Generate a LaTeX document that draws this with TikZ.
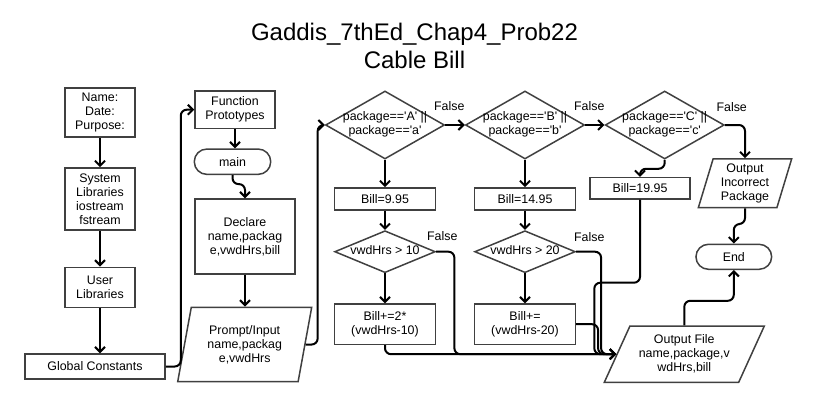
\documentclass[tikz,border=0pt]{standalone}
\usepackage{fontspec}
\setmainfont{Liberation Sans}
\usetikzlibrary{shapes.geometric,arrows.meta,calc}
\newcommand{\zbox}[1]{\makebox[0pt]{\begin{tabular}{@{}c@{}}#1\end{tabular}}}
\newcommand{\sq}{\textquotesingle}
\definecolor{boxc}{HTML}{404040}
\begin{document}
\begin{tikzpicture}[x=1pt,y=-1pt,
  every node/.style={font=\fontsize{12.4}{14}\selectfont, align=center, inner sep=0pt, text=black},
  box/.style={draw=boxc, line width=1.5pt, fill=white, rectangle},
  term/.style={draw=boxc, line width=1.5pt, fill=white, rectangle, rounded corners=12.5pt},
  dia/.style={draw=boxc, line width=1.5pt, fill=white, diamond},
  io/.style 2 args={draw=boxc, line width=1.5pt, fill=white, trapezium,
     trapezium left angle=#1, trapezium right angle=#2, trapezium stretches body},
  conn/.style={line width=2pt, black, rounded corners=6pt, -{Straight Barb[length=5pt,width=10pt]}},
  line/.style={line width=2pt, black, rounded corners=6pt},
  lbl/.style={font=\fontsize{12.4}{14}\selectfont}
]
\useasboundingbox (0,0) rectangle (825,402);

% title
\node[font=\fontsize{24}{28}\selectfont, anchor=base] (t1) at (414.5,40) {Gaddis\_7thEd\_Chap4\_Prob22};
\node[font=\fontsize{24}{28}\selectfont, anchor=base] (t2) at (414.5,68) {Cable Bill};

% column 1
\node[box, minimum width=70, minimum height=49] (nm) at (100,112.7) {Name:\\Date:\\Purpose:};
\node[box, minimum width=70, minimum height=62.3] (sl) at (100,199) {System\\Libraries\\iostream\\fstream};
\node[box, minimum width=70, minimum height=40] (ul) at (100,287.3) {User\\Libraries};
\node[box, minimum width=140, minimum height=25] (gc) at (95,366.5) {Global Constants};

% column 2
\node[box, minimum width=80, minimum height=37.3] (fp) at (235,109.7) {Function\\Prototypes};
\node[term, minimum width=76.4, minimum height=25.3] (mn) at (232.5,161.7) {main};
\node[box, minimum width=100, minimum height=75] (dc) at (245,236.5) {Declare\\name,packag\\e,vwdHrs,bill};
\node[io={70.6}{109.4}, minimum width=134, minimum height=74.4] (pi) at (244.7,344.5) {Prompt/Input\\name,packag\\e,vwdHrs};

% decisions
\node[dia, minimum width=119, minimum height=68] (d1) at (385,125) {\zbox{package==\sq A\sq\ ||\\package==\sq a\sq}};
\node[dia, minimum width=119, minimum height=68] (d2) at (525,125) {\zbox{package==\sq B\sq\ ||\\package==\sq b\sq}};
\node[dia, minimum width=119, minimum height=68] (d3) at (664.7,125) {\zbox{package==\sq C\sq\ ||\\package==\sq c\sq}};

\node[box, minimum width=100.7, minimum height=22.3] (b1) at (385,199) {Bill=9.95};
\node[box, minimum width=100.7, minimum height=22.3] (b2) at (525,199) {Bill=14.95};
\node[box, minimum width=100, minimum height=21.3] (b3) at (640,188.3) {Bill=19.95};

\node[dia, minimum width=100.7, minimum height=42] (h1) at (385,251.7) {\zbox{vwdHrs > 10}};
\node[dia, minimum width=100.7, minimum height=42] (h2) at (525,251.7) {\zbox{vwdHrs > 20}};

\node[box, minimum width=100.7, minimum height=40.3] (a1) at (385,324.2) {Bill+=2*\\(vwdHrs-10)};
\node[box, minimum width=100.7, minimum height=40.3] (a2) at (525,324.2) {Bill+=\\(vwdHrs-20)};

\node[io={69.4}{110.6}, minimum width=93.3, minimum height=48.7] (ic) at (745,183.3) {Output\\Incorrect\\Package};
\node[term, minimum width=75.7, minimum height=25] (en) at (733.8,256.8) {End};
\node[io={56.4}{123.6}, minimum width=160, minimum height=56.3] (of) at (684.3,354.2) {Output File\\name,package,v\\wdHrs,bill};

% connectors
\draw[conn] (nm.south) -- (sl.north);
\draw[conn] (sl.south) -- (ul.north);
\draw[conn] (ul.south) -- (ul.south |- gc.north);
\draw[conn] (gc.east) -- ++(15,0) |- (fp.west);
\draw[conn] (fp.south) -- (fp.south |- mn.north);
\draw[conn] (mn.south) -- ++(0,9) -| (dc.north);
\draw[conn] (dc.south) -- (dc.south |- pi.north);
\draw[conn] (pi.east) -- ++(12,0) |- (d1.west);

\draw[conn] (d1.east) -- (d2.west);
\draw[conn] (d2.east) -- (d3.west);
\draw[conn] (d3.east) -| (ic.north);

\draw[conn] (d1.south) -- (b1.north);
\draw[conn] (b1.south) -- (h1.north);
\draw[conn] (h1.south) -- (a1.north);
\draw[conn] (d2.south) -- (b2.north);
\draw[conn] (b2.south) -- (h2.north);
\draw[conn] (h2.south) -- (a2.north);
\draw[conn] (d3.south) -- ++(0,9) -| (b3.north);

\draw[conn] (ic.south) -- ++(0,15.6) -| (en.north);
\draw[conn] (of.north) -- ++(0,-24.5) -| (en.south);

\draw[conn] (h1.east) -- ++(18.3,0) |- (of.west);
\draw[conn] (a1.south) |- (of.west);
\draw[conn] (h2.east) -- ++(25,0) |- (of.west);
\draw[conn] (a2.east) -- ++(22,0) |- (of.west);
\draw[conn] (b3.south) -- ++(0,83) -| ([xshift=-22pt]of.west) -- (of.west);

% labels
\node[lbl] (f1) at (449.3,105.7) {False};
\node[lbl] (f2) at (589.3,105.7) {False};
\node[lbl] (f3) at (731.7,106.7) {False};
\node[lbl] (f4) at (442.3,235.7) {False};
\node[lbl] (f5) at (589.3,236.7) {False};
\end{tikzpicture}
\end{document}
